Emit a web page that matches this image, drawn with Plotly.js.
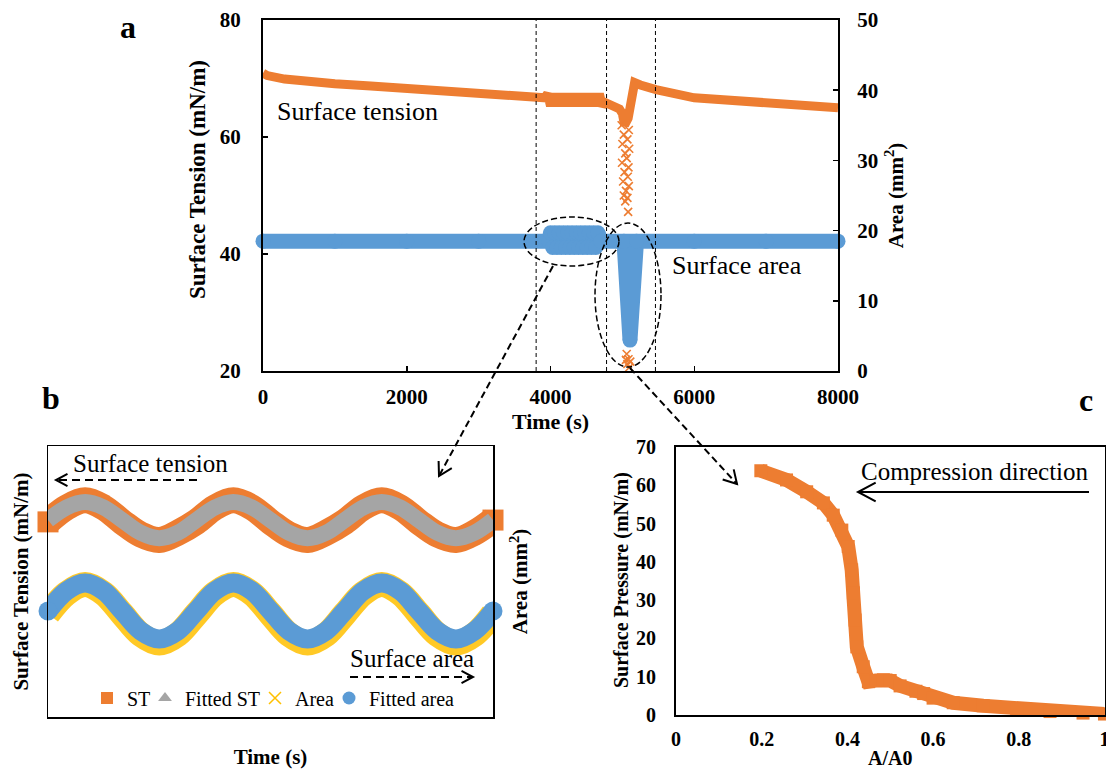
<!DOCTYPE html>
<html><head><meta charset="utf-8">
<script src="https://cdn.plot.ly/plotly-3.0.1.min.js"></script>
<style>html,body{margin:0;padding:0;background:#fff;}#chart{width:1106px;height:769px;}</style>
</head><body><div id="chart"></div>
<script>
// ---------- Panel a data ----------
const aTimeTicks = [0, 2000, 4000, 6000, 8000];
const aSTTicks = [20, 40, 60, 80];
const aAreaTicks = [0, 10, 20, 30, 40, 50];
const phaseBounds = [3800, 4780, 5460];

const stTime = [0, 60, 300, 600, 1000, 1500, 2000, 2500, 3000, 3500, 3800, 3920,
  3960, 4000, 4040, 4080, 4120, 4160, 4200, 4240, 4280, 4320, 4360, 4400, 4440, 4480, 4520, 4560, 4600, 4640, 4680, 4720,
  4760, 4900, 4960, 5000, 5030, 5080, 5120, 5170, 5250, 5468, 6000, 6500, 7000, 7500, 8000];
const stValue = [70.9, 70.5, 69.9, 69.5, 69.1, 68.7, 68.3, 67.9, 67.4, 67.0, 66.8, 66.7,
  67.4, 65.3, 67.4, 65.3, 67.4, 65.3, 67.4, 65.3, 67.4, 65.3, 67.4, 65.3, 67.4, 65.3, 67.4, 65.3, 67.4, 65.3, 67.4, 65.3,
  65.9, 65.4, 64.8, 64.0, 62.0, 63.2, 66.0, 69.3, 68.9, 68.1, 66.7, 66.2, 65.8, 65.4, 65.0];

const stDropTime = [4990, 5090, 5020, 5070, 5000, 5095, 5040, 5060, 4995, 5085, 5030, 5075, 5010, 5090, 5050, 5020, 5070, 5040, 5080,
  5060, 5085, 5070, 5095, 5110, 5050];
const stDropValue = [62.0, 61.2, 60.4, 59.6, 58.8, 58.0, 57.2, 56.4, 55.6, 54.8, 54.0, 53.2, 52.4, 51.6, 50.8, 50.0, 49.6, 49.0, 47.2,
  22.9, 22.0, 21.2, 20.6, 21.6, 21.9];

const areaTime = [0, 1000, 2000, 3000, 3980,
  4000, 4030, 4060, 4090, 4120, 4150, 4180, 4210, 4240, 4270, 4300, 4330, 4360, 4390, 4420, 4450, 4480, 4510, 4540, 4570, 4600, 4630, 4660,
  4700, 5022, 5106, 5197, 6000, 7000, 8000];
const areaValue = [18.5, 18.5, 18.5, 18.5, 18.5,
  19.7, 17.6, 19.7, 17.6, 19.7, 17.6, 19.7, 17.6, 19.7, 17.6, 19.7, 17.6, 19.7, 17.6, 19.7, 17.6, 19.7, 17.6, 19.7, 17.6, 19.7, 17.6, 19.7,
  18.5, 18.5, 4.4, 18.5, 18.5, 18.5, 18.5];

// ---------- Panel b data ----------
const bTime = [0, 12.5, 25, 37.5, 50, 62.5, 75, 87.5, 100, 112.5, 125, 137.5, 150, 162.5, 175, 187.5, 200, 212.5, 225, 237.5, 250, 262.5, 275, 287.5, 300];
const bST = [65.8, 66.6, 67.0, 66.6, 65.8, 65.1, 64.8, 65.2, 65.8, 66.6, 67.0, 66.6, 65.8, 65.1, 64.8, 65.2, 65.8, 66.6, 67.0, 66.6, 65.8, 65.1, 64.8, 65.2, 65.9];
const bFittedST = [65.9, 66.6, 66.9, 66.6, 65.9, 65.2, 64.9, 65.2, 65.9, 66.6, 66.9, 66.6, 65.9, 65.2, 64.9, 65.2, 65.9, 66.6, 66.9, 66.6, 65.9, 65.2, 64.9, 65.2, 65.9];
const bArea = [18.44, 18.85, 19.03, 18.85, 18.44, 18.03, 17.86, 18.03, 18.44, 18.85, 19.03, 18.85, 18.44, 18.03, 17.86, 18.03, 18.44, 18.85, 19.03, 18.85, 18.44, 18.03, 17.86, 18.03, 18.44];
const bFittedArea = [18.5, 18.9, 19.06, 18.9, 18.5, 18.1, 17.94, 18.1, 18.5, 18.9, 19.06, 18.9, 18.5, 18.1, 17.94, 18.1, 18.5, 18.9, 19.06, 18.9, 18.5, 18.1, 17.94, 18.1, 18.5];
const bLegendNames = ['ST', 'Fitted ST', 'Area', 'Fitted area'];

// ---------- Panel c data ----------
const ratioA = [0.198, 0.258, 0.305, 0.344, 0.367, 0.387, 0.402, 0.410, 0.414, 0.418, 0.422, 0.437, 0.449, 0.466, 0.484, 0.500, 0.523, 0.560, 0.578, 0.600, 0.647, 0.717, 0.795, 0.873, 0.950, 1.0];
const pressure = [63.8, 61.4, 58.3, 55.4, 52.2, 48.3, 44.0, 37.9, 31.9, 24.8, 17.8, 12.6, 8.7, 9.0, 9.2, 9.0, 7.6, 6.2, 5.6, 4.4, 3.2, 2.4, 1.6, 0.9, 0.5, 0.25];
const cXTicks = [0, 0.2, 0.4, 0.6, 0.8, 1];
const cXTickText = ['0', '0.2', '0.4', '0.6', '0.8', '1'];
const cYTicks = [0, 10, 20, 30, 40, 50, 60, 70];

// ---------- styling / layout ----------
const ORANGE = '#ED7D31', BLUE = '#5B9BD5', GREY = '#A5A5A5', YELLOW = '#FFC000';
const SERIF = 'Liberation Serif, Times New Roman, serif';
const W = 1106, H = 769;
const px = v => v / W, py = v => 1 - v / H;
const domA = {x: [px(263), px(838)], y: [py(371), py(20)]};
const domB = {x: [px(48), px(493)], y: [py(717), py(446)]};
const domC = {x: [px(676), px(1104.5)], y: [py(715), py(447)]};

const bold = (s) => ({family: SERIF, size: s, color: '#000', weight: 700});
const reg = (s) => ({family: SERIF, size: s, color: '#000', weight: 400});
const endSizes = (n, s) => bTime.map((t, i) => (i === 0 || i === n - 1) ? s : 0);

const traces = [
  // panel a
  {x: stTime, y: stValue, xaxis: 'x', yaxis: 'y', mode: 'lines', line: {color: ORANGE, width: 9}, showlegend: false, hoverinfo: 'skip'},
  {x: stDropTime, y: stDropValue, xaxis: 'x', yaxis: 'y', mode: 'markers', cliponaxis: false,
   marker: {symbol: 'x-thin', size: 8, line: {color: ORANGE, width: 1.6}}, showlegend: false, hoverinfo: 'skip'},
  {x: areaTime, y: areaValue, xaxis: 'x', yaxis: 'y2', mode: 'lines+markers', cliponaxis: false,
   line: {color: BLUE, width: 15}, marker: {color: BLUE, size: 15, opacity: 1, line: {width: 0}}, showlegend: false, hoverinfo: 'skip'},
  // panel b
  {x: bTime, y: bST, xaxis: 'x2', yaxis: 'y3', mode: 'lines+markers', cliponaxis: false,
   line: {color: ORANGE, width: 26, shape: 'spline'},
   marker: {symbol: 'square', color: ORANGE, opacity: 1, line: {width: 0}, size: endSizes(bTime.length, 21)},
   showlegend: false, hoverinfo: 'skip'},
  {x: bTime, y: bFittedST, xaxis: 'x2', yaxis: 'y3', mode: 'lines', line: {color: GREY, width: 16, shape: 'spline'}, showlegend: false, hoverinfo: 'skip'},
  {x: bTime, y: bArea, xaxis: 'x2', yaxis: 'y4', mode: 'lines', line: {color: 'rgba(255,192,0,0.85)', width: 25, shape: 'spline'}, showlegend: false, hoverinfo: 'skip'},
  {x: bTime, y: bFittedArea, xaxis: 'x2', yaxis: 'y4', mode: 'lines+markers', cliponaxis: false,
   line: {color: BLUE, width: 19, shape: 'spline'},
   marker: {color: BLUE, opacity: 1, line: {width: 0}, size: endSizes(bTime.length, 19)},
   showlegend: false, hoverinfo: 'skip'},
  // legend entries for panel b (one legend box each)
  {x: [null], y: [null], xaxis: 'x2', yaxis: 'y3', mode: 'markers', name: bLegendNames[0], legend: 'legend', marker: {symbol: 'square', color: ORANGE, size: 12}},
  {x: [null], y: [null], xaxis: 'x2', yaxis: 'y3', mode: 'markers', name: bLegendNames[1], legend: 'legend2', marker: {symbol: 'triangle-up', color: GREY, size: 12}},
  {x: [null], y: [null], xaxis: 'x2', yaxis: 'y3', mode: 'markers', name: bLegendNames[2], legend: 'legend3', marker: {symbol: 'x-thin', size: 12, line: {color: YELLOW, width: 1.5}}},
  {x: [null], y: [null], xaxis: 'x2', yaxis: 'y3', mode: 'markers', name: bLegendNames[3], legend: 'legend4', marker: {symbol: 'circle', color: BLUE, size: 13}},
  // panel c
  {x: ratioA, y: pressure, xaxis: 'x3', yaxis: 'y5', mode: 'lines+markers', cliponaxis: false,
   line: {color: ORANGE, width: 14}, marker: {symbol: 'square', color: ORANGE, size: 13}, showlegend: false, hoverinfo: 'skip'}
];

const axBase = {showgrid: false, zeroline: false, showline: true, linecolor: '#000', fixedrange: true};

function arrowHead(tipX, tipY, fromX, fromY, len, ang) {
  const dx = fromX - tipX, dy = fromY - tipY, d = Math.hypot(dx, dy);
  const ux = dx / d, uy = dy / d, a = ang * Math.PI / 180;
  const r1x = ux * Math.cos(a) - uy * Math.sin(a), r1y = ux * Math.sin(a) + uy * Math.cos(a);
  const r2x = ux * Math.cos(a) + uy * Math.sin(a), r2y = -ux * Math.sin(a) + uy * Math.cos(a);
  return `M${px(tipX + len * r1x)},${py(tipY + len * r1y)} L${px(tipX)},${py(tipY)} L${px(tipX + len * r2x)},${py(tipY + len * r2y)}`;
}
function pline(x0, y0, x1, y1, width, dash) {
  return {type: 'line', xref: 'paper', yref: 'paper', x0: px(x0), y0: py(y0), x1: px(x1), y1: py(y1), line: {color: '#000', width: width, dash: dash || 'solid'}, layer: 'above'};
}
function phead(tipX, tipY, fromX, fromY, len, ang, width) {
  return {type: 'path', xref: 'paper', yref: 'paper', path: arrowHead(tipX, tipY, fromX, fromY, len, ang), line: {color: '#000', width: width}, layer: 'above'};
}

const shapes = [];
phaseBounds.forEach(t => shapes.push({type: 'line', xref: 'x', yref: 'paper', x0: t, x1: t, y0: domA.y[0], y1: domA.y[1], line: {color: '#000', width: 1, dash: '4px,3px'}, layer: 'above'}));
shapes.push({type: 'circle', xref: 'paper', yref: 'paper', x0: px(524), x1: px(619), y0: py(266), y1: py(217), line: {color: '#000', width: 1.5, dash: '6px,3px'}, layer: 'above'});
shapes.push({type: 'circle', xref: 'paper', yref: 'paper', x0: px(595), x1: px(661), y0: py(367), y1: py(223), line: {color: '#000', width: 1.5, dash: '6px,3px'}, layer: 'above'});
shapes.push(pline(553, 266, 439, 476, 2, '7px,4px'));
shapes.push(phead(439, 476, 553, 266, 15, 30, 2));
shapes.push(pline(630, 368, 737, 484, 2, '7px,4px'));
shapes.push(phead(737, 484, 630, 368, 15, 30, 2));
shapes.push(pline(197, 480, 57, 480, 2, '8px,5px'));
shapes.push(phead(56, 480, 197, 480, 13, 28, 2));
shapes.push(pline(350, 677, 472, 677, 2, '8px,5px'));
shapes.push(phead(473, 677, 350, 677, 13, 28, 2));
shapes.push(pline(1089, 492, 859, 492, 2));
shapes.push(phead(858, 492, 1089, 492, 20, 28, 2));

const ann = (x, y, text, font, extra) => Object.assign({xref: 'paper', yref: 'paper', x: px(x), y: py(y), text: text, showarrow: false, font: font, xanchor: 'center', yanchor: 'middle'}, extra || {});
const annotations = [
  ann(128, 27, 'a', bold(32)),
  ann(51, 398, 'b', bold(32)),
  ann(1086, 400, 'c', bold(32)),
  ann(197, 180, 'Surface Tension (mN/m)', bold(23), {textangle: -90}),
  ann(621, 580, 'Surface Pressure (mN/m)', bold(20), {textangle: -90}),
  ann(357, 112, 'Surface tension', reg(26)),
  ann(737, 265, 'Surface area', reg(26)),
  ann(150, 463, 'Surface tension', reg(25)),
  ann(412, 658, 'Surface area', reg(25)),
  ann(975, 471, 'Compression direction', reg(25))
];

const legBox = (x) => ({orientation: 'h', x: px(x), y: py(698), xanchor: 'left', yanchor: 'middle', font: reg(20), bgcolor: 'rgba(0,0,0,0)', itemwidth: 30});

const layout = {
  width: W, height: H, margin: {l: 0, r: 0, t: 0, b: 0}, paper_bgcolor: '#fff', plot_bgcolor: 'rgba(0,0,0,0)',
  showlegend: true,
  legend: legBox(87), legend2: legBox(145), legend3: legBox(255), legend4: legBox(329),
  xaxis: Object.assign({}, axBase, {domain: domA.x, anchor: 'y', range: [0, 8000], tickvals: aTimeTicks, ticks: 'inside', ticklen: 5, tickwidth: 1.5, tickcolor: '#000',
    linewidth: 2, mirror: true, tickfont: bold(21), ticklabelstandoff: 6, title: {text: 'Time (s)', font: bold(22), standoff: 4}}),
  yaxis: Object.assign({}, axBase, {domain: domA.y, anchor: 'x', range: [20, 80], tickvals: aSTTicks, ticks: 'inside', ticklen: 5, tickwidth: 1.5, tickcolor: '#000',
    linewidth: 2, tickfont: bold(21), ticklabelstandoff: 16}),
  yaxis2: Object.assign({}, axBase, {overlaying: 'y', side: 'right', anchor: 'x', range: [0, 50], tickvals: aAreaTicks, ticks: 'inside', ticklen: 5, tickwidth: 1.5, tickcolor: '#000',
    linewidth: 2, tickfont: bold(21), ticklabelstandoff: 13, title: {text: 'Area (mm<sup>2</sup>)', font: bold(21), standoff: 11}}),
  xaxis2: Object.assign({}, axBase, {domain: domB.x, anchor: 'y3', range: [0, 300], showticklabels: false, ticks: '', linewidth: 1.5, mirror: true,
    title: {text: 'Time (s)', font: bold(21), standoff: 33}}),
  yaxis3: Object.assign({}, axBase, {domain: domB.y, anchor: 'x2', range: [55, 70], showticklabels: false, ticks: '', linewidth: 1.5, mirror: true,
    title: {text: 'Surface Tension (mN/m)', font: bold(21), standoff: 12}}),
  yaxis4: Object.assign({}, axBase, {overlaying: 'y3', side: 'right', anchor: 'x2', range: [16.38, 21.8], showticklabels: false, ticks: '', linewidth: 1.5,
    title: {text: 'Area (mm<sup>2</sup>)', font: bold(21), standoff: 19}}),
  xaxis3: Object.assign({}, axBase, {domain: domC.x, anchor: 'y5', range: [0, 1.0001], tickvals: cXTicks, ticktext: cXTickText, ticks: '', linewidth: 2, mirror: true,
    tickfont: bold(20), ticklabelstandoff: 5, ticklabeloverflow: 'allow', title: {text: 'A/A0', font: bold(20), standoff: 9}}),
  yaxis5: Object.assign({}, axBase, {domain: domC.y, anchor: 'x3', range: [0, 70], tickvals: cYTicks, ticks: '', linewidth: 2, mirror: true,
    tickfont: bold(20), ticklabelstandoff: 14}),
  shapes: shapes,
  annotations: annotations
};

Plotly.newPlot('chart', traces, layout, {displayModeBar: false, staticPlot: true});
</script>
</body></html>
